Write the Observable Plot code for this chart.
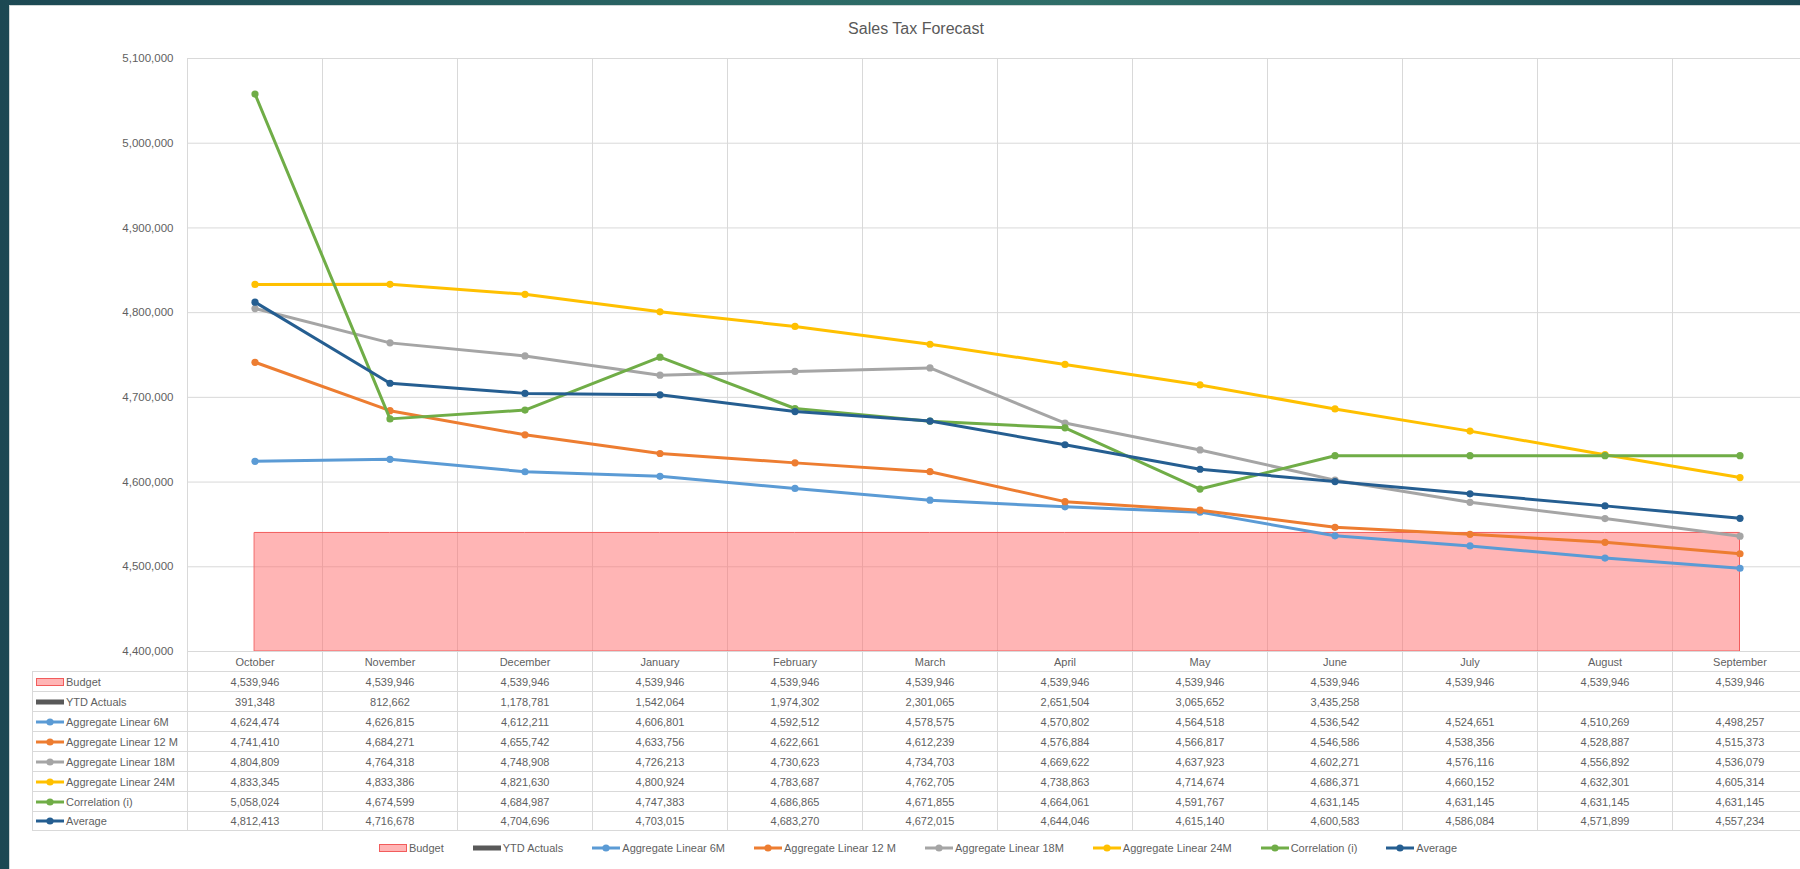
<!DOCTYPE html>
<html>
<head>
<meta charset="utf-8">
<script src="https://cdn.jsdelivr.net/npm/d3@7"></script>
<script src="https://cdn.jsdelivr.net/npm/@observablehq/plot@0.6"></script>
<style>
  html, body { margin: 0; padding: 0; width: 1800px; height: 869px; overflow: hidden; }
  body { position: relative; background: linear-gradient(90deg, #1c4853 0%, #2c6a66 45%, #2f6e68 60%, #1c4954 100%); font-family: "Liberation Sans", Arial, sans-serif; color: #5f5f5f; }
  #panel { position: absolute; left: 9px; top: 5px; right: 0; bottom: 0; background: #fff; border-left: 1px solid #cfd6d6; border-top: 1px solid #cfd6d6; }
  #chart { position: absolute; left: 0; top: 0; }
  #title { position: absolute; left: 0; top: 20px; width: 1832px; text-align: center; font-size: 16px; color: #595959; }
  #table { position: absolute; left: 32px; top: 651px; display: grid; grid-template-columns: 155px repeat(12, 135px); grid-auto-rows: 20px; font-size: 11px; }
  #table .c { box-sizing: border-box; border-left: 1px solid #d9d9d9; border-top: 1px solid #d9d9d9; display: flex; align-items: center; justify-content: center; white-space: nowrap; color: #5f5f5f; }
  #table .blank { border: none; }
  #table .h { justify-content: flex-start; padding-left: 3px; }
  #table .last { border-bottom: 1px solid #d9d9d9; }
  #table svg { margin-right: 2px; flex: none; }
  #legend { position: absolute; left: 0; top: 842px; width: 1836px; display: flex; justify-content: center; gap: 29px; font-size: 11px; color: #5f5f5f; }
  #legend .item { display: flex; align-items: center; white-space: nowrap; }
  #legend svg { margin-right: 2px; }
</style>
</head>
<body>
<div id="panel"></div>
<div id="title">Sales Tax Forecast</div>
<div id="chart"></div>
<div id="table"></div>
<div id="legend"></div>
<script>
// ---- data ----
const months = ["October","November","December","January","February","March","April","May","June","July","August","September"];
const budget = [4539946,4539946,4539946,4539946,4539946,4539946,4539946,4539946,4539946,4539946,4539946,4539946];
const ytdActuals = [391348,812662,1178781,1542064,1974302,2301065,2651504,3065652,3435258,null,null,null];
const linear6M = [4624474,4626815,4612211,4606801,4592512,4578575,4570802,4564518,4536542,4524651,4510269,4498257];
const linear12M = [4741410,4684271,4655742,4633756,4622661,4612239,4576884,4566817,4546586,4538356,4528887,4515373];
const linear18M = [4804809,4764318,4748908,4726213,4730623,4734703,4669622,4637923,4602271,4576116,4556892,4536079];
const linear24M = [4833345,4833386,4821630,4800924,4783687,4762705,4738863,4714674,4686371,4660152,4632301,4605314];
const correlation = [5058024,4674599,4684987,4747383,4686865,4671855,4664061,4591767,4631145,4631145,4631145,4631145];
const average = [4812413,4716678,4704696,4703015,4683270,4672015,4644046,4615140,4600583,4586084,4571899,4557234];
const yTicks = [4400000,4500000,4600000,4700000,4800000,4900000,5000000,5100000];

const lineSeries = [
  {name: "Aggregate Linear 6M", values: linear6M, color: "#5B9BD5"},
  {name: "Aggregate Linear 12 M", values: linear12M, color: "#ED7D31"},
  {name: "Aggregate Linear 18M", values: linear18M, color: "#A5A5A5"},
  {name: "Aggregate Linear 24M", values: linear24M, color: "#FFC000"},
  {name: "Correlation (i)", values: correlation, color: "#70AD47"},
  {name: "Average", values: average, color: "#255E91"}
];
const budgetFill = "#FF6B6B", budgetStroke = "#F25C5C", ytdColor = "#595959";

const bounds = months.map((m, i) => i - 0.5).concat([months.length - 0.5]);
const fmt = d3.format(",");

const plot = Plot.plot({
  width: 1807, height: 670,
  marginLeft: 187, marginRight: 0, marginTop: 58, marginBottom: 19,
  style: {background: "transparent", maxWidth: "none", fontFamily: "'Liberation Sans', Arial, sans-serif", fontSize: "11.5px", color: "#5f5f5f", overflow: "visible"},
  x: {type: "linear", domain: [-0.5, months.length - 0.5], axis: null},
  y: {domain: [yTicks[0], yTicks[yTicks.length - 1]], ticks: yTicks, tickFormat: fmt, tickSize: 0, tickPadding: 14, label: null},
  marks: [
    Plot.ruleY(yTicks, {stroke: "#d9d9d9", strokeWidth: 1}),
    Plot.ruleX(bounds, {stroke: "#d9d9d9", strokeWidth: 1}),
    Plot.areaY(budget, {x: (d, i) => i, y1: yTicks[0], y2: d => d, fill: budgetFill, fillOpacity: 0.5, stroke: budgetStroke, strokeWidth: 1}),
    ...lineSeries.flatMap(s => [
      Plot.lineY(s.values, {x: (d, i) => i, y: d => d, stroke: s.color, strokeWidth: 3, strokeLinejoin: "round"}),
      Plot.dot(s.values, {x: (d, i) => i, y: d => d, fill: s.color, r: 3.6})
    ])
  ]
});
document.getElementById("chart").appendChild(plot);

// ---- legend keys ----
function keySvg(kind, color) {
  if (kind === "line") {
    return `<svg width="28" height="10"><line x1="0" y1="5" x2="28" y2="5" stroke="${color}" stroke-width="3"/><circle cx="14" cy="5" r="3.6" fill="${color}"/></svg>`;
  } else if (kind === "budget") {
    return `<svg width="28" height="10"><rect x="0.5" y="1.5" width="27" height="7" fill="${budgetFill}" fill-opacity="0.5" stroke="${budgetStroke}" stroke-width="1"/></svg>`;
  } else {
    return `<svg width="28" height="10"><rect x="0" y="2.5" width="28" height="5" fill="${ytdColor}"/></svg>`;
  }
}

const rows = [
  {name: "Budget", values: budget, key: keySvg("budget")},
  {name: "YTD Actuals", values: ytdActuals, key: keySvg("ytd")},
  ...lineSeries.map(s => ({name: s.name, values: s.values, key: keySvg("line", s.color)}))
];

// ---- data table ----
const table = document.getElementById("table");
let html = `<div class="blank"></div>` + months.map(m => `<div class="c">${m}</div>`).join("");
rows.forEach((r, ri) => {
  const last = ri === rows.length - 1 ? " last" : "";
  html += `<div class="c h${last}">${r.key}<span>${r.name}</span></div>`;
  html += r.values.map(v => `<div class="c${last}">${v == null ? "" : fmt(v)}</div>`).join("");
});
table.innerHTML = html;

// ---- bottom legend ----
document.getElementById("legend").innerHTML = rows.map(r => `<div class="item">${r.key}<span>${r.name}</span></div>`).join("");
</script>
</body>
</html>
